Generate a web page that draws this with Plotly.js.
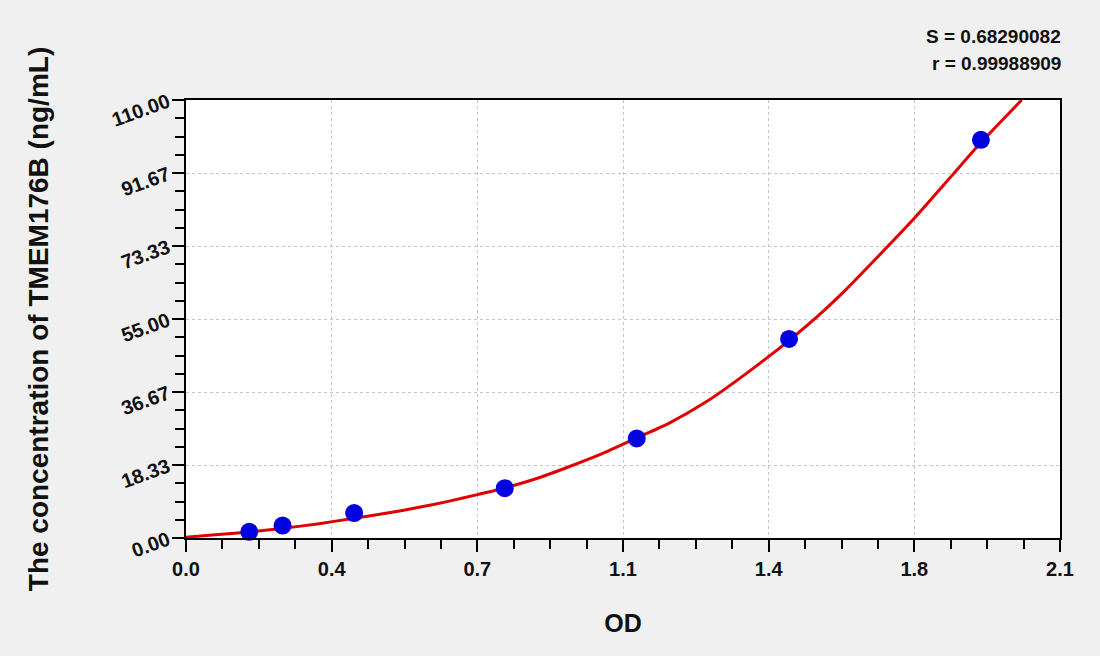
<!DOCTYPE html>
<html>
<head>
<meta charset="utf-8">
<script src="https://cdn.plot.ly/plotly-3.0.1.min.js"></script>
<style>
  html, body { margin: 0; padding: 0; background: #f0f0f0; }
  #grafica { width: 1100px; height: 656px; }
</style>
</head>
<body>
<div id="grafica"></div>
<script>
// standard points (OD, concentration)
const odPuntos = [0.152, 0.232, 0.404, 0.766, 1.083, 1.449, 1.910];
const concPuntos = [1.56, 3.12, 6.25, 12.5, 25, 50, 100];

// fitted curve
const odCurva = [0.0, 0.07, 0.15, 0.23, 0.32, 0.40, 0.48, 0.56, 0.63, 0.70, 0.77, 0.85, 0.92, 1.00, 1.08, 1.16, 1.25, 1.35, 1.45, 1.52, 1.585, 1.65, 1.75, 1.846, 1.91, 2.008];
const concCurva = [0.2, 0.8, 1.5, 2.4, 3.6, 4.9, 6.2, 7.7, 9.2, 10.9, 12.7, 15.2, 17.9, 21.2, 25.0, 28.8, 34.2, 41.6, 49.7, 55.9, 62.3, 69.3, 80.3, 91.7, 99.3, 110];

const ticksX = [0, 0.35, 0.7, 1.05, 1.4, 1.75, 2.1];
const etiquetasX = ['0.0', '0.4', '0.7', '1.1', '1.4', '1.8', '2.1'];
const ticksY = [0, 18.333, 36.667, 55, 73.333, 91.667, 110];
const etiquetasY = ['0.00', '18.33', '36.67', '55.00', '73.33', '91.67', '110.00'];

const textoS = 'S = 0.68290082';
const textoR = 'r = 0.99988909';

const fuente = 'Arial, "Liberation Sans", sans-serif';

function crearEje(ticks, etiquetas, rango, pasoMenor, titulo) {
  return {
    range: rango,
    tickmode: 'array',
    tickvals: ticks,
    ticktext: etiquetas,
    ticks: 'outside',
    ticklen: 12,
    tickwidth: 2,
    tickcolor: '#000',
    showline: true,
    linecolor: '#000',
    linewidth: 2,
    mirror: true,
    showgrid: true,
    gridcolor: '#c4c4c4',
    griddash: 'dot',
    gridwidth: 1,
    zeroline: false,
    tickfont: { family: fuente, size: 20, color: '#111', weight: 'bold' },
    minor: {
      tick0: 0,
      dtick: pasoMenor,
      ticks: 'outside',
      ticklen: 9,
      tickwidth: 2,
      tickcolor: '#000',
      showgrid: false
    },
    title: {
      text: titulo,
      font: { family: fuente, size: 25, color: '#111', weight: 'bold' }
    }
  };
}

const ejeX = crearEje(ticksX, etiquetasX, [0, 2.1], 0.0875, 'OD');
ejeX.title.standoff = 35;

const ejeY = crearEje(ticksY, etiquetasY, [0, 110], 4.58333, 'The concentration of TMEM176B (ng/mL)');
ejeY.tickangle = -20;
ejeY.title.font.size = 28;
ejeY.title.standoff = 52;

const trazaCurva = {
  x: odCurva,
  y: concCurva,
  type: 'scatter',
  mode: 'lines',
  line: { color: '#e00000', width: 3, shape: 'spline', smoothing: 0.6 },
  hoverinfo: 'skip'
};

const trazaPuntos = {
  x: odPuntos,
  y: concPuntos,
  type: 'scatter',
  mode: 'markers',
  marker: { color: '#0000e0', size: 18 },
  cliponaxis: false
};

const layout = {
  width: 1100,
  height: 656,
  paper_bgcolor: '#f0f0f0',
  plot_bgcolor: '#ffffff',
  showlegend: false,
  margin: { l: 186, r: 40, t: 100, b: 118 },
  xaxis: ejeX,
  yaxis: ejeY,
  annotations: [
    {
      text: textoS, xref: 'paper', yref: 'paper', x: 1.004, y: 1.145,
      xanchor: 'right', yanchor: 'middle', showarrow: false,
      font: { family: fuente, size: 19, color: '#111', weight: 'bold' }
    },
    {
      text: textoR, xref: 'paper', yref: 'paper', x: 1.004, y: 1.084,
      xanchor: 'right', yanchor: 'middle', showarrow: false,
      font: { family: fuente, size: 19, color: '#111', weight: 'bold' }
    }
  ]
};

Plotly.newPlot('grafica', [trazaCurva, trazaPuntos], layout, { displayModeBar: false, staticPlot: true });
</script>
</body>
</html>
